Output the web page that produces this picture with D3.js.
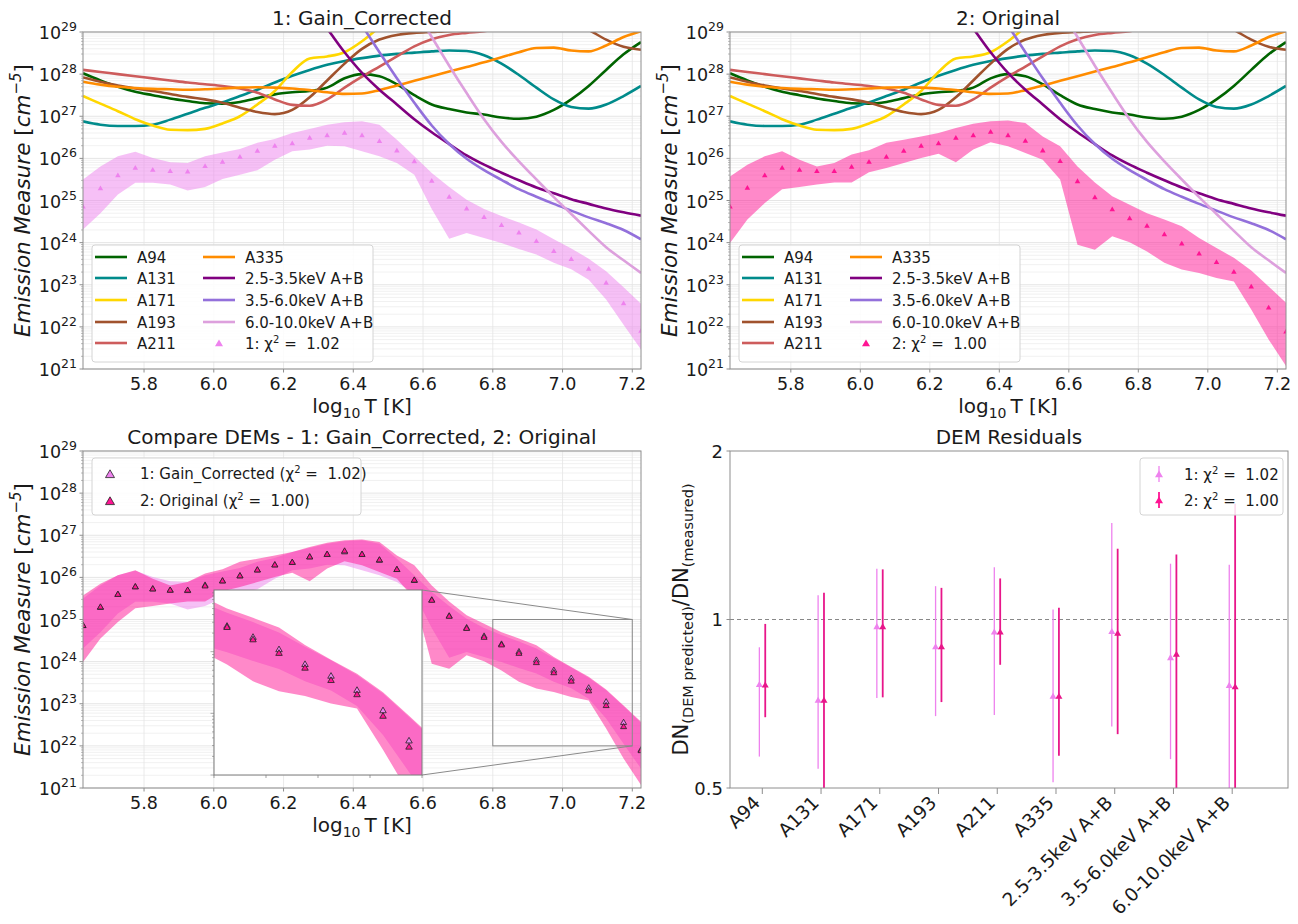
<!DOCTYPE html>
<html><head><meta charset="utf-8">
<script src="https://cdn.jsdelivr.net/npm/d3@7"></script>
<style>body{margin:0;background:#fff;} svg{font-family:"DejaVu Sans",sans-serif;}</style>
</head><body><svg id="c" width="1298" height="924"></svg>
<script>
// ---------------- DATA ----------------
const logT = [5.625,5.675,5.725,5.775,5.825,5.875,5.925,5.975,6.025,6.075,6.125,6.175,6.225,6.275,6.325,6.375,6.425,6.475,6.525,6.575,6.625,6.675,6.725,6.775,6.825,6.875,6.925,6.975,7.025,7.075,7.125,7.175,7.225];
// DEM results, log10 EM [cm^-5]
const dem1 = [24.85,25.28,25.59,25.77,25.72,25.69,25.68,25.81,25.91,26.03,26.17,26.29,26.35,26.48,26.54,26.60,26.54,26.40,26.18,25.92,25.46,25.08,24.80,24.60,24.41,24.23,24.03,23.79,23.60,23.37,23.04,22.55,21.90];
const dem1Hi = [25.50,25.81,26.05,26.16,26.01,25.91,25.89,26.05,26.14,26.22,26.37,26.46,26.60,26.70,26.80,26.86,26.88,26.80,26.44,26.05,25.65,25.32,25.02,24.80,24.63,24.48,24.31,24.08,23.86,23.62,23.32,22.94,22.55];
const dem1Lo = [24.31,24.70,25.14,25.42,25.42,25.38,25.24,25.32,25.51,25.61,25.72,25.97,26.17,26.21,26.30,26.29,26.17,26.05,25.89,25.61,24.80,24.09,24.23,24.11,23.99,23.85,23.72,23.52,23.37,23.12,22.65,22.05,21.46];
const dem2 = [24.85,25.29,25.59,25.77,25.72,25.69,25.69,25.79,25.91,26.03,26.17,26.29,26.35,26.48,26.54,26.62,26.54,26.41,26.18,25.93,25.45,25.07,24.78,24.57,24.39,24.19,23.97,23.73,23.53,23.30,22.95,22.45,21.88];
const dem2Hi = [25.57,25.85,26.05,26.17,25.97,25.81,25.89,26.09,26.19,26.37,26.44,26.52,26.60,26.72,26.82,26.88,26.90,26.84,26.52,26.29,25.81,25.43,25.10,24.90,24.70,24.55,24.39,24.11,23.87,23.64,23.34,22.96,22.57];
const dem2Lo = [23.99,24.55,24.94,25.27,25.32,25.38,25.43,25.43,25.67,25.77,25.89,26.01,26.11,25.91,26.21,26.38,26.29,26.13,25.97,25.50,23.95,23.83,24.15,24.01,23.79,23.52,23.36,23.28,23.16,23.08,22.41,21.70,21.07];

// EM loci curves, log10 EM
const locA94  = [28.02,27.85,27.70,27.58,27.50,27.42,27.36,27.31,27.30,27.34,27.43,27.52,27.57,27.60,27.68,27.90,28.00,27.95,27.76,27.50,27.28,27.17,27.09,27.04,26.97,26.94,26.99,27.15,27.40,27.72,28.10,28.47,28.76];
const locA131 = [26.88,26.80,26.77,26.77,26.80,26.92,27.06,27.20,27.33,27.48,27.63,27.80,27.96,28.10,28.22,28.31,28.38,28.44,28.48,28.51,28.54,28.56,28.55,28.45,28.25,27.98,27.68,27.40,27.22,27.18,27.28,27.48,27.72];
const locA171 = [27.48,27.30,27.12,26.93,26.78,26.68,26.67,26.70,26.83,27.00,27.28,27.60,28.05,28.37,28.42,28.52,28.78,29.12,29.50,null,null,null,null,null,null,null,null,null,null,null,null,null,null];
const locA193 = [27.92,27.82,27.73,27.66,27.60,27.53,27.46,27.40,27.32,27.20,27.10,27.05,27.15,27.45,27.85,28.25,28.60,28.82,28.93,28.98,29.00,29.02,29.05,29.10,29.20,29.30,29.35,29.35,29.25,29.05,28.82,28.65,28.58];
const locA211 = [28.10,28.05,28.00,27.95,27.90,27.85,27.80,27.76,27.72,27.66,27.56,27.40,27.27,27.25,27.40,27.68,27.94,28.18,28.42,28.66,28.83,28.93,28.98,29.02,29.10,29.20,29.30,29.40,29.50,null,null,null,null];
const locA335 = [27.82,27.75,27.70,27.67,27.65,27.64,27.63,27.64,27.66,27.68,27.69,27.68,27.66,27.62,27.57,27.53,27.54,27.62,27.73,27.84,27.95,28.06,28.17,28.28,28.40,28.52,28.62,28.63,28.56,28.54,28.68,28.88,29.02];
const locK1 = [null,null,null,null,null,null,null,null,null,null,null,null,null,29.60,29.08,28.52,28.03,27.63,27.28,26.93,26.62,26.34,26.07,25.85,25.66,25.48,25.31,25.17,25.03,24.92,24.81,24.72,24.64];
const locK2 = [null,null,null,null,null,null,null,null,null,null,null,null,null,null,null,29.70,29.15,28.52,27.90,27.32,26.78,26.34,25.99,25.72,25.49,25.27,25.09,24.92,24.76,24.60,24.46,24.30,24.08];
const locK3 = [null,null,null,null,null,null,null,null,null,null,null,null,null,null,null,null,null,null,null,29.55,28.88,28.20,27.55,26.93,26.39,25.93,25.50,25.08,24.68,24.28,23.89,23.58,23.28];
const lociNames = ["A94","A131","A171","A193","A211","A335","2.5-3.5keV A+B","3.5-6.0keV A+B","6.0-10.0keV A+B"];
const lociValues = [locA94,locA131,locA171,locA193,locA211,locA335,locK1,locK2,locK3];

// residuals
const resCategories = ["A94","A131","A171","A193","A211","A335","2.5-3.5keV A+B","3.5-6.0keV A+B","6.0-10.0keV A+B"];
const res1   = [0.764,0.716,0.969,0.892,0.948,0.728,0.950,0.853,0.761];
const res1Lo = [0.569,0.541,0.724,0.672,0.675,0.512,0.644,0.563,0.45];
const res1Hi = [0.892,1.105,1.232,1.147,1.240,1.042,1.487,1.258,1.252];
const res2   = [0.762,0.716,0.969,0.892,0.948,0.728,0.943,0.865,0.757];
const res2Lo = [0.669,0.45,0.726,0.712,0.830,0.571,0.624,0.45,0.45];
const res2Hi = [0.982,1.116,1.229,1.139,1.184,1.049,1.338,1.307,1.610];

const xTickVals = [5.8,6.0,6.2,6.4,6.6,6.8,7.0,7.2];
const yExps = [21,22,23,24,25,26,27,28,29];
const chi1 = "1.02", chi2 = "1.00";

// ---------------- STYLE ----------------
const lociColors = ["#006400","#008b8b","#ffd700","#a0522d","#cd5c5c","#ff8c00","#800080","#9370db","#dda0dd"];
const C1 = "#ee82ee", C2 = "#ff1493";
const SPINE = "#8e8e8e", TXT = "#1a1a1a";
const svg = d3.select("#c");
const defs = svg.append("defs");

function tri(s){ const h = s*Math.sqrt(3)/2; return `M0,${-2*h/3}L${s/2},${h/3}L${-s/2},${h/3}Z`; }
const pw = v => Math.pow(10, v);

function emPanel(p, id){
  const g = svg.append("g").attr("transform",`translate(${p.x},${p.y})`);
  const x = d3.scaleLinear().domain([5.625,7.225]).range([0,p.w]);
  const y = d3.scaleLog().domain([1e21,1e29]).range([p.h,0]);
  defs.append("clipPath").attr("id",id).append("rect").attr("width",p.w).attr("height",p.h);
  const grid = g.append("g");
  yExps.slice(0,-1).forEach(e=>{ for(let m=2;m<=9;m++){ const yy=y(m*pw(e));
    grid.append("line").attr("x1",0).attr("x2",p.w).attr("y1",yy).attr("y2",yy).attr("stroke","#eeeeee").attr("stroke-width",0.8);} });
  yExps.forEach(e=>{ const yy=y(pw(e)); grid.append("line").attr("x1",0).attr("x2",p.w).attr("y1",yy).attr("y2",yy).attr("stroke","#dedede").attr("stroke-width",0.8);});
  xTickVals.forEach(t=>{ grid.append("line").attr("x1",x(t)).attr("x2",x(t)).attr("y1",0).attr("y2",p.h).attr("stroke","#e4e4e4").attr("stroke-width",0.8);});
  const plot = g.append("g").attr("clip-path",`url(#${id})`);
  return {g,x,y,plot,p};
}
function emAxes(P, title){
  const {g,x,y,p} = P;
  g.append("rect").attr("width",p.w).attr("height",p.h).attr("fill","none").attr("stroke",SPINE).attr("stroke-width",1);
  yExps.forEach(e=>{
    const yy=y(pw(e));
    g.append("line").attr("x1",-3.5).attr("x2",0).attr("y1",yy).attr("y2",yy).attr("stroke",SPINE);
    const t=g.append("text").attr("x",-6).attr("y",yy+7).attr("text-anchor","end").attr("font-size",17.5).attr("fill",TXT);
    t.append("tspan").text("10");
    t.append("tspan").attr("dy",-8).attr("font-size",12.5).text(e);
    if(e<29) for(let m=2;m<=9;m++){ const ym=y(m*pw(e)); g.append("line").attr("x1",-2).attr("x2",0).attr("y1",ym).attr("y2",ym).attr("stroke",SPINE).attr("stroke-width",0.6);}
  });
  xTickVals.forEach(t=>{
    g.append("line").attr("x1",x(t)).attr("x2",x(t)).attr("y1",p.h).attr("y2",p.h+3.5).attr("stroke",SPINE);
    g.append("text").attr("x",x(t)).attr("y",p.h+21).attr("text-anchor","middle").attr("font-size",17.5).attr("fill",TXT).text(t.toFixed(1));
  });
  const xl=g.append("text").attr("x",p.w/2).attr("y",p.h+44).attr("text-anchor","middle").attr("font-size",20).attr("fill",TXT);
  xl.append("tspan").text("log");
  xl.append("tspan").attr("dy",5).attr("font-size",14).text("10");
  xl.append("tspan").attr("dy",-5).text("\u2009T [K]");
  const yl=g.append("text").attr("transform",`translate(-53,${p.h/2}) rotate(-90)`).attr("text-anchor","middle").attr("font-size",21.5).attr("fill",TXT).attr("font-style","italic");
  yl.append("tspan").text("Emission Measure ");
  yl.append("tspan").attr("font-style","normal").text("[");
  yl.append("tspan").text("cm");
  yl.append("tspan").attr("dy",-9).attr("font-size",15).text("\u22125");
  yl.append("tspan").attr("dy",9).attr("font-style","normal").text("]");
  g.append("text").attr("x",p.w/2).attr("y",-7).attr("text-anchor","middle").attr("font-size",20).attr("fill",TXT).text(title);
}
function drawBand(plot,x,y,lo,hi,color,op){
  const area=d3.area().x((d,i)=>x(logT[i])).y0((d,i)=>y(pw(lo[i]))).y1((d,i)=>y(pw(hi[i])));
  plot.append("path").attr("d",area(logT)).attr("fill",color).attr("fill-opacity",op);
}
function drawPts(plot,x,y,vals,color,s,edge){
  vals.forEach((v,i)=>{
    plot.append("path").attr("d",tri(s)).attr("transform",`translate(${x(logT[i])},${y(pw(v))})`)
      .attr("fill",color).attr("stroke",edge||"none").attr("stroke-width",edge?0.8:0);
  });
}
function chiText(t, prefix, chi, suffix){
  t.append("tspan").text(prefix+"\u03c7");
  t.append("tspan").attr("dy",-6).attr("font-size",10).text("2");
  t.append("tspan").attr("dy",6).text(" =\u00a0 "+chi+(suffix||""));
}
function topPanel(p,id,title,demV,lo,hi,col,label,chi){
  const P=emPanel(p,id);
  lociValues.forEach((arr,k)=>{
    const pts=arr.map((v,i)=>v==null?null:[logT[i],v]);
    const l=d3.line().defined(d=>d!=null).x(d=>P.x(d[0])).y(d=>P.y(pw(d[1]))).curve(d3.curveMonotoneX);
    P.plot.append("path").attr("d",l(pts)).attr("fill","none").attr("stroke",lociColors[k]).attr("stroke-width",2.6);
  });
  drawBand(P.plot,P.x,P.y,lo,hi,col,0.5);
  drawPts(P.plot,P.x,P.y,demV,col,5.5);
  // legend
  const lg=P.g.append("g").attr("transform","translate(9,213)");
  lg.append("rect").attr("width",281).attr("height",117).attr("rx",3).attr("fill","#fff").attr("fill-opacity",0.85).attr("stroke","#d4d4d4");
  const rows=[12,33,55,77,98];
  lociNames.forEach((n,k)=>{
    const col2=k>=5, r=col2?k-5:k;
    const lx=col2?111:3, ty=rows[r];
    lg.append("line").attr("x1",lx).attr("x2",lx+32).attr("y1",ty).attr("y2",ty).attr("stroke",lociColors[k]).attr("stroke-width",2.6);
    lg.append("text").attr("x",lx+42).attr("y",ty+5.5).attr("font-size",15).attr("fill",TXT).text(n);
  });
  lg.append("path").attr("d",tri(8)).attr("transform",`translate(127,${rows[4]+1})`).attr("fill",col);
  const t=lg.append("text").attr("x",153).attr("y",rows[4]+5.5).attr("font-size",15).attr("fill",TXT);
  chiText(t,label+": ",chi);
  emAxes(P,title);
  return P;
}
const p1={x:83,y:32,w:558,h:337}, p2={x:730,y:32,w:556,h:337}, p3={x:83,y:451,w:558,h:337}, p4={x:730,y:451,w:558,h:337};
topPanel(p1,"cp1","1: Gain_Corrected",dem1,dem1Lo,dem1Hi,C1,"1",chi1);
topPanel(p2,"cp2","2: Original",dem2,dem2Lo,dem2Hi,C2,"2",chi2);

// ---------- bottom-left comparison ----------
const P3=emPanel(p3,"cp3");
drawBand(P3.plot,P3.x,P3.y,dem1Lo,dem1Hi,C1,0.5);
drawBand(P3.plot,P3.x,P3.y,dem2Lo,dem2Hi,C2,0.5);
drawPts(P3.plot,P3.x,P3.y,dem1,C1,6,"#222");
drawPts(P3.plot,P3.x,P3.y,dem2,C2,6,"#222");
// inset mark
const rx0=P3.x(6.8), rx1=P3.x(7.2), ry0=P3.y(1e25), ry1=P3.y(1e22);
P3.g.append("rect").attr("x",rx0).attr("y",ry0).attr("width",rx1-rx0).attr("height",ry1-ry0).attr("fill","none").attr("stroke","#8a8a8a").attr("stroke-width",1);
const ip={x:214-p3.x,y:590-p3.y,w:208,h:185};
P3.g.append("line").attr("x1",ip.x+ip.w).attr("y1",ip.y).attr("x2",rx1).attr("y2",ry0).attr("stroke","#8a8a8a").attr("stroke-width",1);
P3.g.append("line").attr("x1",ip.x+ip.w).attr("y1",ip.y+ip.h).attr("x2",rx1).attr("y2",ry1).attr("stroke","#8a8a8a").attr("stroke-width",1);
// inset axes
const ig=P3.g.append("g").attr("transform",`translate(${ip.x},${ip.y})`);
const ix=d3.scaleLinear().domain([6.8,7.2]).range([0,ip.w]);
const iy=d3.scaleLog().domain([1e22,1e25]).range([ip.h,0]);
defs.append("clipPath").attr("id","cpi").append("rect").attr("width",ip.w).attr("height",ip.h);
ig.append("rect").attr("width",ip.w).attr("height",ip.h).attr("fill","#fff");
const ipl=ig.append("g").attr("clip-path","url(#cpi)");
drawBand(ipl,ix,iy,dem1Lo,dem1Hi,C1,0.5);
drawBand(ipl,ix,iy,dem2Lo,dem2Hi,C2,0.5);
drawPts(ipl,ix,iy,dem1,C1,6.5,"#222");
drawPts(ipl,ix,iy,dem2,C2,6.5,"#222");
ig.append("rect").attr("width",ip.w).attr("height",ip.h).attr("fill","none").attr("stroke","#7a7a7a");
[22,23,24].forEach(e=>{ for(let m=1;m<=9;m++){ const yy=iy(m*pw(e)); if(yy<0||yy>ip.h) continue;
  ig.append("line").attr("x1",m===1?-3.5:-2).attr("x2",0).attr("y1",yy).attr("y2",yy).attr("stroke","#7a7a7a").attr("stroke-width",0.6);} });
[6.8,6.9,7.0,7.1,7.2].forEach(t=>ig.append("line").attr("x1",ix(t)).attr("x2",ix(t)).attr("y1",ip.h).attr("y2",ip.h+3).attr("stroke","#7a7a7a").attr("stroke-width",0.7));
// legend
const lg3=P3.g.append("g").attr("transform","translate(9,7)");
lg3.append("rect").attr("width",269).attr("height",57).attr("rx",3).attr("fill","#fff").attr("fill-opacity",0.85).attr("stroke","#d4d4d4");
lg3.append("path").attr("d",tri(9)).attr("transform","translate(18,17)").attr("fill",C1).attr("stroke","#222").attr("stroke-width",0.8);
lg3.append("path").attr("d",tri(9)).attr("transform","translate(18,44)").attr("fill",C2).attr("stroke","#222").attr("stroke-width",0.8);
chiText(lg3.append("text").attr("x",48).attr("y",20.5).attr("font-size",15).attr("fill",TXT),"1: Gain_Corrected (",chi1,")");
chiText(lg3.append("text").attr("x",48).attr("y",47.5).attr("font-size",15).attr("fill",TXT),"2: Original (",chi2,")");
emAxes(P3,"Compare DEMs - 1: Gain_Corrected, 2: Original");

// ---------- residuals ----------
const g4=svg.append("g").attr("transform",`translate(${p4.x},${p4.y})`);
const rxs=d3.scaleLinear().domain([-0.5,9]).range([0,p4.w]);
const rys=d3.scaleLog().domain([0.5,2]).range([p4.h,0]);
defs.append("clipPath").attr("id","cp4").append("rect").attr("width",p4.w).attr("height",p4.h);
const pl4=g4.append("g").attr("clip-path","url(#cp4)");
pl4.append("line").attr("x1",0).attr("x2",p4.w).attr("y1",rys(1)).attr("y2",rys(1)).attr("stroke","#888").attr("stroke-width",1.1).attr("stroke-dasharray","4,3");
function resSeries(vals,lo,hi,off,color,sw){
  vals.forEach((v,i)=>{
    const xx=rxs(i+off);
    pl4.append("line").attr("x1",xx).attr("x2",xx).attr("y1",rys(lo[i])).attr("y2",rys(hi[i])).attr("stroke",color).attr("stroke-width",sw);
    pl4.append("path").attr("d",tri(7)).attr("transform",`translate(${xx},${rys(v)})`).attr("fill",color);
  });
}
resSeries(res1,res1Lo,res1Hi,0,C1,1.3);
resSeries(res2,res2Lo,res2Hi,0.1,"#e8168a",1.8);
g4.append("rect").attr("width",p4.w).attr("height",p4.h).attr("fill","none").attr("stroke",SPINE);
[[2,"2"],[1,"1"],[0.5,"0.5"]].forEach(([v,s])=>{
  g4.append("line").attr("x1",-3.5).attr("x2",0).attr("y1",rys(v)).attr("y2",rys(v)).attr("stroke",SPINE);
  g4.append("text").attr("x",-7).attr("y",rys(v)+6.5).attr("text-anchor","end").attr("font-size",18).attr("fill",TXT).text(s);
});
resCategories.forEach((c,i)=>{
  const xx=rxs(i+0.05);
  g4.append("line").attr("x1",xx).attr("x2",xx).attr("y1",p4.h).attr("y2",p4.h+6).attr("stroke",SPINE);
  g4.append("text").attr("transform",`translate(${xx-1},${p4.h+16}) rotate(-45)`).attr("text-anchor","end").attr("font-size",18.5).attr("fill",TXT).text(c);
});
const yl4=g4.append("text").attr("transform",`translate(-42,${p4.h/2}) rotate(-90)`).attr("text-anchor","middle").attr("font-size",21).attr("fill",TXT);
yl4.append("tspan").text("DN");
yl4.append("tspan").attr("dy",5).attr("font-size",14.5).text("(DEM predicted)");
yl4.append("tspan").attr("dy",-5).text("/DN");
yl4.append("tspan").attr("dy",5).attr("font-size",14.5).text("(measured)");
g4.append("text").attr("x",p4.w/2).attr("y",-7).attr("text-anchor","middle").attr("font-size",20).attr("fill",TXT).text("DEM Residuals");
const lg4=g4.append("g").attr("transform","translate(410,7)");
lg4.append("rect").attr("width",143).attr("height",57).attr("rx",3).attr("fill","#fff").attr("fill-opacity",0.85).attr("stroke","#d4d4d4");
[[C1,1.3,chi1,"1",16],[C2,1.8,chi2,"2",42]].forEach(([c,sw,chi,lab,ty])=>{
  lg4.append("line").attr("x1",19).attr("x2",19).attr("y1",ty-8).attr("y2",ty+8).attr("stroke",c).attr("stroke-width",sw);
  lg4.append("path").attr("d",tri(8)).attr("transform",`translate(19,${ty+1})`).attr("fill",c);
  chiText(lg4.append("text").attr("x",44).attr("y",ty+5.5).attr("font-size",15).attr("fill",TXT),lab+": ",chi);
});
</script></body></html>
